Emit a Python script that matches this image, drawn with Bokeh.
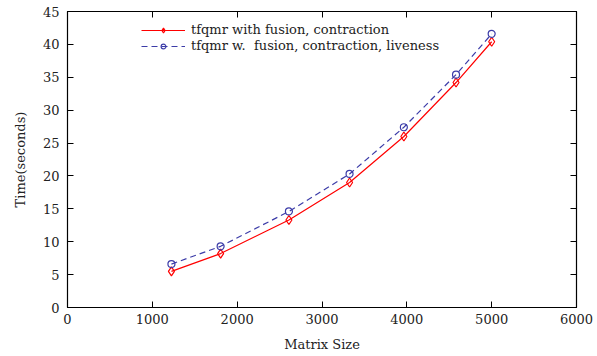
from bokeh.plotting import figure
from bokeh.models import Range1d, LinearAxis, Legend, LegendItem, FixedTicker, CustomJSTickFormatter
from bokeh.embed import file_html
from bokeh.resources import INLINE

matrix_size = [1225, 1805, 2610, 3325, 3965, 4580, 5000]
t_fusion_contraction = [5.5, 8.2, 13.3, 19.0, 26.0, 34.2, 40.4]
t_fusion_contraction_liveness = [6.6, 9.3, 14.6, 20.3, 27.4, 35.4, 41.6]
label_a = "tfqmr with fusion, contraction"
label_b = "tfqmr w.  fusion, contraction, liveness"
x_ticks = [0, 1000, 2000, 3000, 4000, 5000, 6000]
y_ticks = [0, 5, 10, 15, 20, 25, 30, 35, 40, 45]

FONT = "DejaVu Serif"
FS = "13px"
TXT = "#222222"

p = figure(width=597, height=356, output_backend="svg", toolbar_location=None,
           x_range=Range1d(0, 6000), y_range=Range1d(0, 45),
           min_border_left=67, min_border_right=21, min_border_top=11, min_border_bottom=49)
p.xgrid.visible = False
p.ygrid.visible = False
p.outline_line_color = "black"
p.outline_line_width = 1.2

for ax, ticks in ((p.xaxis[0], x_ticks), (p.yaxis[0], y_ticks)):
    ax.ticker = FixedTicker(ticks=ticks)
    ax.major_tick_in = 6
    ax.major_tick_out = 0
    ax.minor_tick_in = 0
    ax.minor_tick_out = 0
    ax.axis_line_color = "black"
    ax.major_label_text_font = FONT
    ax.major_label_text_font_size = FS
    ax.major_label_text_color = TXT
    ax.axis_label_text_font = FONT
    ax.axis_label_text_font_size = FS
    ax.axis_label_text_font_style = "normal"
    ax.axis_label_text_color = TXT

p.xaxis[0].axis_label = "Matrix Size"
p.yaxis[0].axis_label = "Time(seconds)"
p.xaxis[0].major_label_standoff = 6
p.yaxis[0].major_label_standoff = 8
p.xaxis[0].axis_label_standoff = 10
p.yaxis[0].axis_label_standoff = 12

blank = CustomJSTickFormatter(code="return ''")
top = LinearAxis(ticker=FixedTicker(ticks=x_ticks), major_tick_in=6, major_tick_out=0,
                 minor_tick_in=0, minor_tick_out=0, formatter=blank,
                 major_label_standoff=0)
right = LinearAxis(ticker=FixedTicker(ticks=y_ticks), major_tick_in=6, major_tick_out=0,
                   minor_tick_in=0, minor_tick_out=0, formatter=blank,
                   major_label_standoff=0)
p.add_layout(top, "above")
p.add_layout(right, "right")

red = "#ff0000"
blue = "#3c3ca8"
l1 = p.line(matrix_size, t_fusion_contraction, line_color=red, line_width=1.2)
m1 = p.scatter(matrix_size, t_fusion_contraction, marker="diamond",
               size=9, fill_color=None, line_color=red, line_width=1.2)
l2 = p.line(matrix_size, t_fusion_contraction_liveness, line_color=blue, line_width=1.2,
            line_dash="6 4")
m2 = p.scatter(matrix_size, t_fusion_contraction_liveness, marker="circle",
               size=7, fill_color=None, line_color=blue, line_width=1.2)

legend = Legend(items=[LegendItem(label=label_a, renderers=[l1, m1]),
                       LegendItem(label=label_b, renderers=[l2, m2])],
                background_fill_alpha=0, border_line_alpha=0,
                label_text_font=FONT, label_text_font_size=FS, label_text_color=TXT,
                glyph_width=44, glyph_height=12, label_height=12, spacing=1,
                padding=2, margin=0, label_standoff=6)
legend.location = (72, 252)
p.add_layout(legend)

open("out.html", "w").write(file_html(p, INLINE))
